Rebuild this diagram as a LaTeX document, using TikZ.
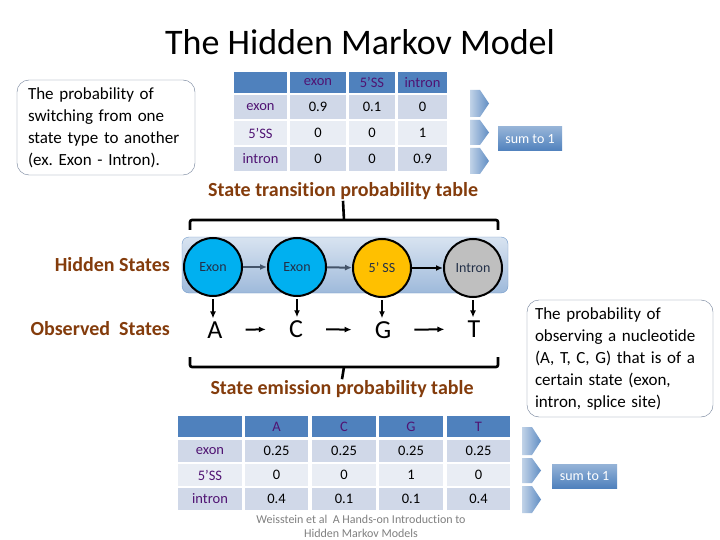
\documentclass[tikz,border=0pt]{standalone}
\usepackage{fontspec}
\setmainfont{Carlito}[Ligatures={TeX,NoCommon}]
\usetikzlibrary{arrows.meta,positioning,calc}
\frenchspacing
\definecolor{myBrown}{RGB}{132,60,12}
\definecolor{myPurple}{RGB}{80,20,115}
\definecolor{hdBlue}{RGB}{79,129,189}
\definecolor{rowDark}{RGB}{208,216,232}
\definecolor{rowLight}{RGB}{233,237,244}
\definecolor{exonBlue}{RGB}{0,176,240}
\definecolor{ssGold}{RGB}{255,192,0}
\definecolor{intronGray}{RGB}{191,191,191}
\definecolor{slate}{RGB}{68,84,106}
\definecolor{stText}{RGB}{35,48,72}
\definecolor{noteEdge}{RGB}{110,125,150}
\tikzset{
	ttl/.style={font=\fontsize{36}{40}\selectfont},
	note/.style={
		draw=noteEdge,
		rounded corners=12pt,
		align=left,
		inner ysep=4pt,
		font=\fontsize{17}{22}\selectfont
	},
	lbl/.style={font=\bfseries\fontsize{20}{22}\selectfont, text=myBrown, inner sep=1pt},
	cell/.style={inner sep=0pt, font=\fontsize{14.5}{16}\selectfont},
	hcell/.style={cell, fill=hdBlue, text=myPurple},
	dcell/.style={cell, fill=rowDark},
	lcell/.style={cell, fill=rowLight},
	rname/.style={text=myPurple},
	chev/.style={left color=hdBlue!35, right color=hdBlue!90},
	sumbox/.style={
		top color=hdBlue!60, bottom color=hdBlue,
		text=white, inner sep=0pt,
		minimum width=64pt, minimum height=24pt,
		font=\fontsize{14}{16}\selectfont
	},
	brack/.style={line width=2.6pt, rounded corners=2pt},
	panel/.style={
		draw=hdBlue!80, rounded corners=7pt,
		top color=hdBlue!22, bottom color=hdBlue!55,
		minimum width=326pt, minimum height=56pt
	},
	st/.style={
		circle, draw=black, line width=2pt,
		minimum size=58pt, inner sep=0pt,
		text=stText, font=\fontsize{14}{16}\selectfont
	},
	obs/.style={inner sep=1pt, font=\fontsize{26}{28}\selectfont},
	harr/.style={-{Latex[length=7pt,width=6pt]}, line width=2pt},
	darr/.style={-{Latex[length=7pt,width=6pt]}, line width=2pt, shorten <=2pt, shorten >=2pt},
	oarr/.style={-{Latex[length=7pt,width=6pt]}, line width=2pt, shorten <=22pt, shorten >=22pt},
	cite/.style={align=center, text=black!50, font=\fontsize{12}{14}\selectfont}
}

\begin{document}
\begin{tikzpicture}[x=1pt, y=-1pt]
	\useasboundingbox (0,0) rectangle (720,540);
	\fill[white] (0,0) rectangle (720,540);

	\node[ttl] (title) at (360,42) {The Hidden Markov Model};

	% left note
	\node[note, text width=156pt, inner xsep=11pt, minimum height=95pt] (noteL) at (106,127.5)
		{The probability of\\ switching from one\\ state type to another\\ (ex. Exon - Intron).};

	% transition table
	\node[hcell, minimum width=53pt, minimum height=21pt] (t00) at (260.5,82.5) {};
	\node[hcell, minimum width=56pt, minimum height=21pt] (t01) at (318,82.5) {exon};
	\node[hcell, minimum width=46pt, minimum height=21pt] (t02) at (372,82.5) {5'SS};
	\node[hcell, minimum width=49pt, minimum height=21pt] (t03) at (422.5,82.5) {intron};
	\node[dcell, rname, minimum width=53pt, minimum height=24pt] (t10) at (260.5,107) {exon};
	\node[dcell, minimum width=56pt, minimum height=24pt] (t11) at (318,107) {0.9};
	\node[dcell, minimum width=46pt, minimum height=24pt] (t12) at (372,107) {0.1};
	\node[dcell, minimum width=49pt, minimum height=24pt] (t13) at (422.5,107) {0};
	\node[lcell, rname, minimum width=53pt, minimum height=24pt] (t20) at (260.5,133) {5'SS};
	\node[lcell, minimum width=56pt, minimum height=24pt] (t21) at (318,133) {0};
	\node[lcell, minimum width=46pt, minimum height=24pt] (t22) at (372,133) {0};
	\node[lcell, minimum width=49pt, minimum height=24pt] (t23) at (422.5,133) {1};
	\node[dcell, rname, minimum width=53pt, minimum height=24pt] (t30) at (260.5,159) {intron};
	\node[dcell, minimum width=56pt, minimum height=24pt] (t31) at (318,159) {0};
	\node[dcell, minimum width=46pt, minimum height=24pt] (t32) at (372,159) {0};
	\node[dcell, minimum width=49pt, minimum height=24pt] (t33) at (422.5,159) {0.9};

	\foreach \ya/\yb in {90/117,120/145,148/174}
		\shade[chev] (470,\ya) -- (480,\ya) -- (489,{(\ya+\yb)/2}) -- (480,\yb) -- (470,\yb) -- cycle;
	\node[sumbox] (sum1) at (530,139) {sum to 1};

	\node[lbl] (ttab) at (343,191) {State transition probability table};
	\draw[brack] (190,230) |- (344,220) -| (498,230);
	\draw[brack] (344,220) -- (ttab.south);

	% hidden states
	\node[panel] (hid) at (345,265) {};
	\node[st, fill=exonBlue] (s1) at (213,267) {Exon};
	\node[st, fill=exonBlue] (s2) at (297,267) {Exon};
	\node[st, fill=ssGold] (s3) at (382,268) {5' SS};
	\node[st, fill=intronGray] (s4) at (473,268) {Intron};
	\draw[harr, slate] (s1) -- (s2);
	\draw[harr, slate] (s2) -- (s3);
	\draw[harr] (s3) -- (s4);

	\node[lbl, anchor=east] (hsl) at (171,265) {Hidden States};
	\node[lbl, anchor=east] (osl) at (171,329) {Observed~ States};

	% observed states
	\node[obs] (o1) at (215,330) {A};
	\node[obs] (o2) at (296,329) {C};
	\node[obs] (o3) at (383,330) {G};
	\node[obs] (o4) at (474,329) {T};
	\draw[darr] (s1) -- (s1 |- o1.north);
	\draw[darr] (s2) -- (s2 |- o2.north);
	\draw[darr] (s3) -- (s3 |- o3.north);
	\draw[darr] (s4) -- (s4 |- o4.north);
	\draw[oarr] (o1) -- (o2);
	\draw[oarr] (o2) -- (o3);
	\draw[oarr] (o3) -- (o4);

	\draw[brack] (190,357) |- (344,367) -| (498,357);
	\node[lbl] (etab) at (342,389) {State emission probability table};
	\draw[brack] (344,367) -- (etab.north);

	% right note
	\node[note, text width=170pt, inner xsep=8pt, minimum height=117pt] (noteR) at (620,358.5)
		{The probability of\\ observing a nucleotide\\ (A, T, C, G) that is of a\\ certain state (exon,\\ intron, splice site)};

	% emission table
	\node[hcell, minimum width=64pt, minimum height=21pt] (e00) at (210,426.5) {};
	\node[hcell, minimum width=63pt, minimum height=21pt] (e01) at (276.5,426.5) {A};
	\node[hcell, minimum width=64pt, minimum height=21pt] (e02) at (344,426.5) {C};
	\node[hcell, minimum width=64pt, minimum height=21pt] (e03) at (411,426.5) {G};
	\node[hcell, minimum width=63pt, minimum height=21pt] (e04) at (478.5,426.5) {T};
	\node[dcell, rname, minimum width=64pt, minimum height=22pt] (e10) at (210,451) {exon};
	\node[dcell, minimum width=63pt, minimum height=22pt] (e11) at (276.5,451) {0.25};
	\node[dcell, minimum width=64pt, minimum height=22pt] (e12) at (344,451) {0.25};
	\node[dcell, minimum width=64pt, minimum height=22pt] (e13) at (411,451) {0.25};
	\node[dcell, minimum width=63pt, minimum height=22pt] (e14) at (478.5,451) {0.25};
	\node[lcell, rname, minimum width=64pt, minimum height=22pt] (e20) at (210,475) {5'SS};
	\node[lcell, minimum width=63pt, minimum height=22pt] (e21) at (276.5,475) {0};
	\node[lcell, minimum width=64pt, minimum height=22pt] (e22) at (344,475) {0};
	\node[lcell, minimum width=64pt, minimum height=22pt] (e23) at (411,475) {1};
	\node[lcell, minimum width=63pt, minimum height=22pt] (e24) at (478.5,475) {0};
	\node[dcell, rname, minimum width=64pt, minimum height=22pt] (e30) at (210,499) {intron};
	\node[dcell, minimum width=63pt, minimum height=22pt] (e31) at (276.5,499) {0.4};
	\node[dcell, minimum width=64pt, minimum height=22pt] (e32) at (344,499) {0.1};
	\node[dcell, minimum width=64pt, minimum height=22pt] (e33) at (411,499) {0.1};
	\node[dcell, minimum width=63pt, minimum height=22pt] (e34) at (478.5,499) {0.4};

	\foreach \ya/\yb in {427/455,458/483,486/513}
		\shade[chev] (522,\ya) -- (532,\ya) -- (541,{(\ya+\yb)/2}) -- (532,\yb) -- (522,\yb) -- cycle;
	\node[sumbox, minimum width=65pt] (sum2) at (584.5,476) {sum to 1};

	\node[cite] (ref) at (361,526) {Weisstein et al~ A Hands-on Introduction to\\ Hidden Markov Models};
\end{tikzpicture}
\end{document}
